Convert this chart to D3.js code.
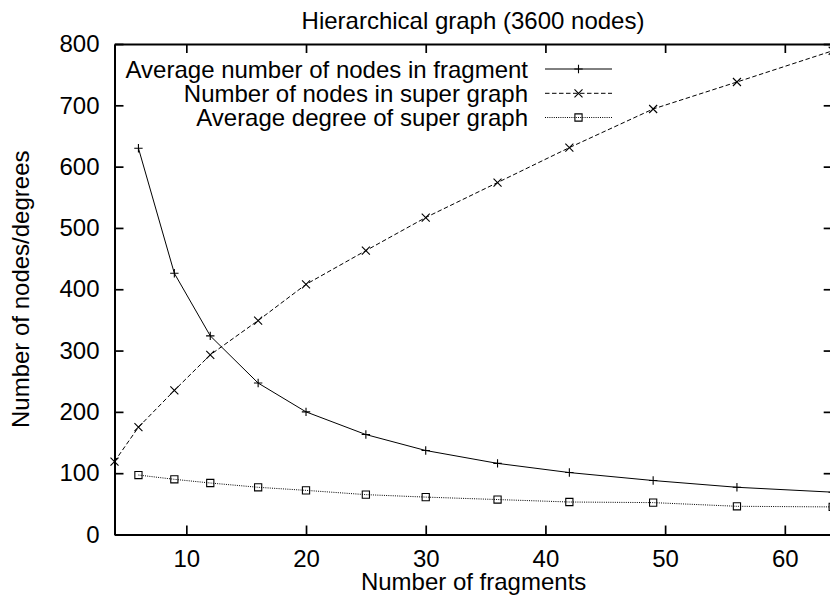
<!DOCTYPE html>
<html>
<head>
<meta charset="utf-8">
<script src="https://cdn.jsdelivr.net/npm/d3@7"></script>
<style>
  html, body { margin: 0; padding: 0; background: #fff; }
  svg { display: block; }
  text { font-family: "Liberation Sans", Arial, Helvetica, sans-serif; fill: #000; }
</style>
</head>
<body>
<svg id="chart" width="830" height="595"></svg>
<script>
// ---- data ----
const fragments = [4, 6, 9, 12, 16, 20, 25, 30, 36, 42, 49, 56, 64];
const avgNodesInFragment = [null, 630, 426, 324, 247, 200, 163, 137, 116, 101, 88, 77, 69];
const nodesInSuperGraph  = [119, 175, 235, 293, 349, 408, 463, 517, 574, 631, 694, 738, 789];
const avgDegreeSuperGraph = [null, 97, 90, 84, 77, 72, 65, 61, 57, 53, 52, 46, 45];
const xTicks = [10, 20, 30, 40, 50, 60];
const yTicks = [0, 100, 200, 300, 400, 500, 600, 700, 800];
const seriesNames = [
  "Average number of nodes in fragment",
  "Number of nodes in super graph",
  "Average degree of super graph"
];
const titleText = "Hierarchical graph (3600 nodes)";
const xLabel = "Number of fragments";
const yLabel = "Number of nodes/degrees";

// ---- layout ----
const L = 114.5, R = 832.7, T = 44, B = 534.5;
const svg = d3.select("#chart");
const x = d3.scaleLinear().domain([4, 64]).range([L, R]);
const y = d3.scaleLinear().domain([0, 800]).range([B, T]);
const FS = 24;

function styleAxis(g) {
  g.selectAll(".domain").attr("stroke", "#000").attr("stroke-width", 2);
  g.selectAll(".tick line").attr("stroke", "#000").attr("stroke-width", 1.7);
  g.selectAll(".tick text").attr("font-size", FS).attr("font-family", '"Liberation Sans", Arial, sans-serif').attr("fill", "#000");
}

// bottom
svg.append("g").attr("transform", `translate(0,${B})`)
  .call(d3.axisBottom(x).tickValues(xTicks).tickSize(-9).tickSizeOuter(0).tickPadding(15).tickFormat(d3.format("d")))
  .call(styleAxis);
// top
svg.append("g").attr("transform", `translate(0,${T})`)
  .call(d3.axisTop(x).tickValues(xTicks).tickSize(-9).tickSizeOuter(0).tickFormat(""))
  .call(styleAxis);
// left
svg.append("g").attr("transform", `translate(${L},0)`)
  .call(d3.axisLeft(y).tickValues(yTicks).tickSize(-9).tickSizeOuter(0).tickPadding(15).tickFormat(d3.format("d")))
  .call(styleAxis);
// right
svg.append("g").attr("transform", `translate(${R},0)`)
  .call(d3.axisRight(y).tickValues(yTicks).tickSize(-9).tickSizeOuter(0).tickFormat(""))
  .call(styleAxis);

// ---- series ----
const series = [
  { name: seriesNames[0], values: avgNodesInFragment, dash: null, marker: "plus" },
  { name: seriesNames[1], values: nodesInSuperGraph, dash: "4.5,2.5", marker: "cross" },
  { name: seriesNames[2], values: avgDegreeSuperGraph, dash: "1,1.2", marker: "square" }
];

const markerPath = {
  plus: "M-4.2,0H4.2M0,-4.2V4.2",
  cross: "M-4,-4L4,4M-4,4L4,-4",
  square: "M-3.6,-3.6H3.6V3.6H-3.6Z"
};

const line = d3.line()
  .defined(d => d.v !== null)
  .x(d => x(d.f))
  .y(d => y(d.v));

series.forEach(s => {
  const pts = fragments.map((f, i) => ({ f, v: s.values[i] }));
  svg.append("path")
    .datum(pts)
    .attr("d", line)
    .attr("fill", "none")
    .attr("stroke", "#000")
    .attr("stroke-width", 1)
    .attr("stroke-dasharray", s.dash);
  svg.append("g").selectAll("path")
    .data(pts.filter(d => d.v !== null))
    .join("path")
    .attr("transform", d => `translate(${x(d.f)},${y(d.v)})`)
    .attr("d", markerPath[s.marker])
    .attr("fill", "none")
    .attr("stroke", "#000")
    .attr("stroke-width", 1.1);
});

// ---- legend ----
const legRows = [69, 93.3, 117.5];
const leg = svg.append("g");
series.forEach((s, i) => {
  const ly = legRows[i];
  leg.append("text")
    .attr("x", 528).attr("y", ly + 8.5)
    .attr("text-anchor", "end")
    .attr("font-size", FS)
    .text(s.name);
  leg.append("line")
    .attr("x1", 545).attr("x2", 612).attr("y1", ly).attr("y2", ly)
    .attr("stroke", "#000").attr("stroke-width", 1)
    .attr("stroke-dasharray", s.dash);
  leg.append("path")
    .attr("transform", `translate(578.5,${ly})`)
    .attr("d", markerPath[s.marker])
    .attr("fill", "none").attr("stroke", "#000").attr("stroke-width", 1.1);
});

// ---- titles ----
svg.append("text").attr("x", 473).attr("y", 29)
  .attr("text-anchor", "middle").attr("font-size", FS).text(titleText);
svg.append("text").attr("x", (L + R) / 2).attr("y", 590)
  .attr("text-anchor", "middle").attr("font-size", FS).text(xLabel);
svg.append("text")
  .attr("transform", `translate(29,${(T + B) / 2}) rotate(-90)`)
  .attr("text-anchor", "middle").attr("font-size", FS).text(yLabel);
</script>
</body>
</html>
